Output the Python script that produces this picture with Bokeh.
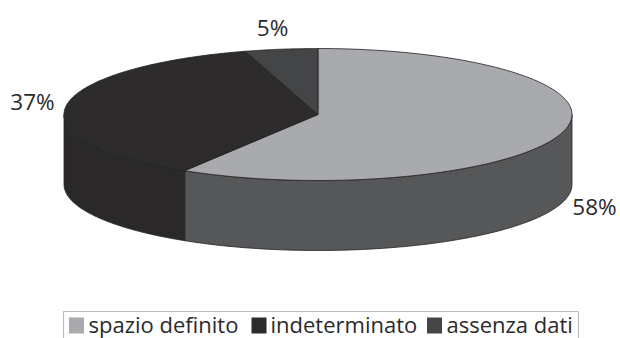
import numpy as np
from bokeh.plotting import figure
from bokeh.embed import file_html
from bokeh.resources import INLINE
from bokeh.core.properties import value

categories = ["spazio definito", "indeterminato", "assenza dati"]
shares = [58, 37, 5]
share_labels = ["58%", "37%", "5%"]
top_colors = ["#a9aaad", "#2d2b2c", "#434547"]
wall_colors = ["#565759", "#2a2829", "#3a3b3d"]

FONT = "Open Sans"
CX, CY, RX, RY, DEPTH = 317.5, 114, 254, 66, 70
OUTLINE = "#232223"


def tilt(theta):
    # Angular distortion of the tilted disc, in degrees clockwise from twelve o'clock.
    return theta + 4.0 * np.sin(np.radians(2 * theta)) ** 2


def rim(a, b, n=120):
    t = np.radians(tilt(np.linspace(a, b, n)))
    return CX + RX * np.sin(t), CY - RY * np.cos(t)


p = figure(width=620, height=338, x_range=(0, 620), y_range=(338, 0),
           output_backend="svg", toolbar_location=None, min_border=0,
           outline_line_color=None, background_fill_color="white")
p.axis.visible = False
p.grid.visible = False

edges = np.cumsum([0] + shares) * 3.6

# Side wall of the disc: only the front half (90 to 270 degrees) is visible.
for i in range(len(shares)):
    a, b = max(edges[i], 90.0), min(edges[i + 1], 270.0)
    if a >= b:
        continue
    x, y = rim(a, b)
    p.patch(np.r_[x, x[::-1]], np.r_[y, y[::-1] + DEPTH],
            fill_color=wall_colors[i], line_color=OUTLINE, line_width=0.8)

# Top face, one wedge per category.
for i in range(len(shares)):
    x, y = rim(edges[i], edges[i + 1])
    p.patch(np.r_[CX, x], np.r_[CY, y],
            fill_color=top_colors[i], line_color=OUTLINE, line_width=0.8)

# Percentage labels around the disc.
p.text(x=[594, 32, 272], y=[206, 101, 27], text=share_labels, text_font=value(FONT),
       text_font_size="22.5px", text_color="#2b2a2b", text_align="center",
       text_baseline="middle")

# Legend frame runs off the bottom of the page.
p.quad(left=[63], right=[578], top=[311], bottom=[345], fill_color="white",
       line_color="#bcbdbf", line_width=1.2)
p.rect(x=[76, 258.5, 434], y=[325] * 3, width=[15] * 3, height=[16] * 3,
       fill_color=top_colors, line_color=None)
p.text(x=[88, 270, 446], y=[323.5] * 3, text=categories, text_font=value(FONT),
       text_font_size="22px", text_color="#2b2a2b", text_align="left",
       text_baseline="middle")

open("out.html", "w").write(file_html(p, INLINE))
